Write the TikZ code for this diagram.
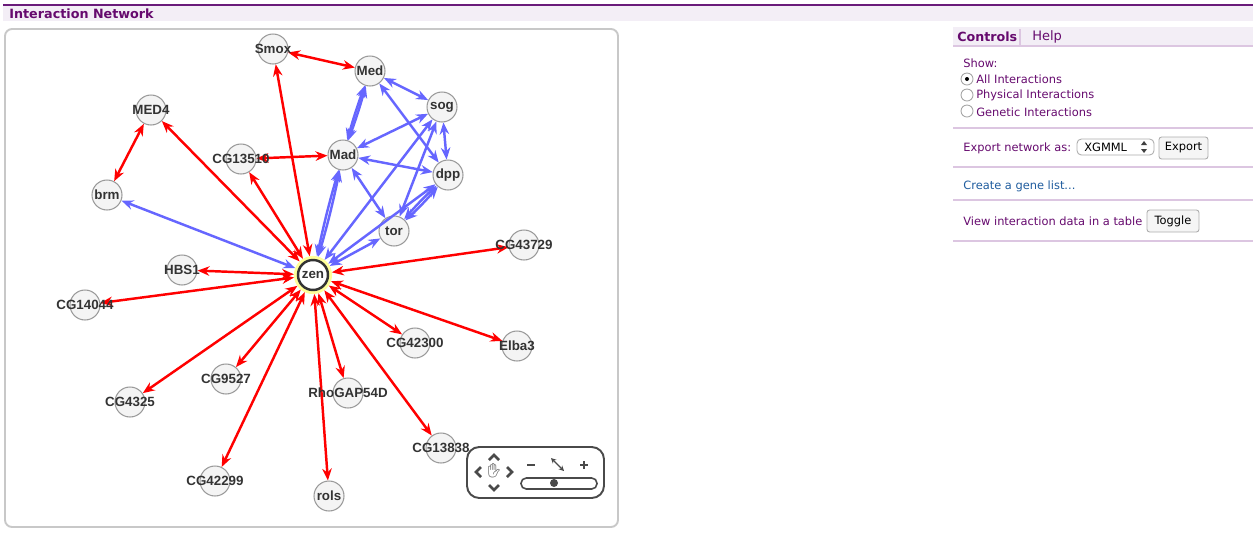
\documentclass[tikz,border=0pt]{standalone}
\usepackage{fontspec}
\setmainfont{Liberation Sans}
\newfontfamily\uifont{DejaVu Sans}
\newfontfamily\emojifont{Noto Emoji}
\usetikzlibrary{arrows.meta}

\definecolor{edgered}{HTML}{FF0000}
\definecolor{edgeblue}{HTML}{6666FF}
\definecolor{nodefill}{HTML}{F4F4F4}
\definecolor{nodeline}{HTML}{9A9A9A}
\definecolor{labelgray}{HTML}{333333}
\definecolor{zenline}{HTML}{333333}
\definecolor{halo}{HTML}{FFFF99}
\definecolor{framegray}{HTML}{C8C8C8}
\definecolor{uipurple}{HTML}{660A6E}
\definecolor{headline}{HTML}{6A1B7A}
\definecolor{bandfill}{HTML}{F3EEF6}
\definecolor{sepline}{HTML}{DCC6E1}
\definecolor{linkblue}{HTML}{1F5C9E}
\definecolor{widgetgray}{HTML}{4A4A4A}

\tikzset{
  gene/.style={circle, draw=nodeline, fill=nodefill, line width=0.6pt,
    minimum size=0.6cm, inner sep=0pt},
  genetext/.style={font=\fontsize{7.6}{9}\selectfont\bfseries, text=labelgray, inner sep=0pt},
  redlink/.style={edgered, line width=1.4pt, <->},
  bluelink/.style={edgeblue, line width=1.4pt, <->},
  ui/.style={font=\uifont\fontsize{6.5}{8}\selectfont, text=uipurple, inner sep=0pt, anchor=west},
  btn/.style={draw=gray!65, fill=gray!8, rounded corners=1.5pt, line width=0.5pt},
  chevron/.style={widgetgray, line width=1.6pt},
}

\begin{document}
\begin{tikzpicture}[x=0.02cm, y=-0.02cm, >={Stealth[length=6.8pt,width=5.4pt]}]
\useasboundingbox (0,0) rectangle (1259,535);

% header
\fill[bandfill] (3,6) rectangle (1253,21);
\draw[headline, line width=1.1pt] (3,5) -- (1253,5);
\node[font=\uifont\bfseries\fontsize{7.25}{10}\selectfont, text=uipurple, anchor=west, inner sep=0pt] (title) at (9,14) {Interaction Network};

% network panel
\draw[framegray, line width=1.1pt, rounded corners=4pt] (5,29) rectangle (618,527);

% genes
\node[gene, draw=zenline, line width=1.4pt, fill=white,
  preaction={draw=halo, line width=4.6pt}, outer sep=2.3pt] (zen) at (313,275) {};
\node[gene] (smox) at (273,49) {};
\node[gene] (med) at (370,71) {};
\node[gene] (sog) at (442,107) {};
\node[gene] (medf) at (151,110) {};
\node[gene] (cg13510) at (241,159) {};
\node[gene] (mad) at (343,155) {};
\node[gene] (dpp) at (448,175) {};
\node[gene] (brm) at (107,195) {};
\node[gene] (tor) at (394,231) {};
\node[gene] (cg43729) at (524,245) {};
\node[gene] (hbs) at (182,270) {};
\node[gene] (cg14044) at (85,305) {};
\node[gene] (cg42300) at (415,343) {};
\node[gene] (elba) at (517,346) {};
\node[gene] (cg9527) at (226,379) {};
\node[gene] (rho) at (348,393) {};
\node[gene] (cg4325) at (130,402) {};
\node[gene] (cg13838) at (441,448) {};
\node[gene] (cg42299) at (215,481) {};
\node[gene] (rols) at (329,496) {};

% red interactions
\foreach \g in {smox,medf,cg13510,hbs,cg14044,cg4325,cg9527,cg42299,rols,rho,cg13838,cg42300,elba,cg43729}
  \draw[redlink] (zen) -- (\g);
\draw[redlink] (smox) -- (med);
\draw[redlink] (medf) -- (brm);
\draw[redlink] (cg13510) -- (mad);

% blue interactions
\draw[bluelink] (zen) -- (brm);
\draw[bluelink] (zen) to[bend left=2] (mad);
\draw[bluelink] (zen) to[bend right=2] (mad);
\draw[bluelink] (zen) -- (sog);
\draw[bluelink] (zen) -- (dpp);
\draw[bluelink] (zen) -- (tor);
\draw[bluelink] (med) to[bend left=2] (mad);
\draw[bluelink] (med) to[bend right=2] (mad);
\draw[bluelink] (med) -- (sog);
\draw[bluelink] (med) -- (dpp);
\draw[bluelink] (sog) -- (mad);
\draw[bluelink] (sog) -- (dpp);
\draw[bluelink] (sog) -- (tor);
\draw[bluelink] (mad) -- (dpp);
\draw[bluelink] (mad) -- (tor);
\draw[bluelink] (dpp) to[bend left=3] (tor);
\draw[bluelink] (dpp) to[bend right=3] (tor);

% gene names
\foreach \g/\t in {zen/zen, smox/Smox, med/Med, sog/sog, medf/MED4, cg13510/CG13510,
  mad/Mad, dpp/dpp, brm/brm, tor/tor, cg43729/CG43729, hbs/HBS1, cg14044/CG14044,
  cg42300/CG42300, elba/Elba3, cg9527/CG9527, rho/RhoGAP54D, cg4325/CG4325,
  cg13838/CG13838, cg42299/CG42299, rols/rols}
  \node[genetext] (\g-t) at (\g) {\t};

% navigation widget
\draw[widgetgray, line width=1.1pt, rounded corners=7pt] (467,447) rectangle (604,498);
\draw[chevron] (489,460) -- (494,455) -- (499,460);
\draw[chevron] (489,485) -- (494,490) -- (499,485);
\draw[chevron] (481,467) -- (476,472) -- (481,477);
\draw[chevron] (507,467) -- (512,472) -- (507,477);
\node[font=\emojifont\fontsize{8}{8}\selectfont, text=widgetgray, inner sep=0pt] (hand) at (494,471) {✋};
\draw[widgetgray, line width=0.9pt] (527,465) -- (535,465);
\draw[widgetgray, line width=0.9pt] (580,465) -- (588,465) (584,461) -- (584,469);
\draw[widgetgray, line width=0.8pt, {Stealth[length=3pt,width=3pt]}-{Stealth[length=3pt,width=3pt]}] (551,458) -- (564,471);
\draw[widgetgray, line width=0.9pt, rounded corners=3pt] (521,478) rectangle (597,489);
\fill[widgetgray] (554,483) circle (4);

% controls panel
\fill[bandfill] (953,27) rectangle (1253,45);
\draw[sepline, line width=0.6pt] (953,46) -- (1253,46);
\draw[sepline, line width=0.6pt] (1020,29) -- (1020,45);
\node[ui, font=\uifont\bfseries\fontsize{7.2}{9}\selectfont] (controls) at (957,37) {Controls};
\node[ui, font=\uifont\fontsize{7.4}{9}\selectfont] (help) at (1032,37) {Help};

\node[ui] (show) at (963,63) {Show:};
\draw[gray!70, fill=white, line width=0.5pt] (967,79) circle (6);
\fill[black] (967,79) circle (2);
\draw[gray!70, fill=white, line width=0.5pt] (967,95) circle (6);
\draw[gray!70, fill=white, line width=0.5pt] (967,111) circle (6);
\node[ui] (allint) at (976,79) {All Interactions};
\node[ui] (physint) at (976,95) {Physical Interactions};
\node[ui] (genint) at (976,112) {Genetic Interactions};
\draw[sepline, line width=0.6pt] (953,128) -- (1253,128);

\node[ui] (export) at (963,148) {Export network as:};
\draw[gray!65, fill=white, line width=0.5pt, rounded corners=2.5pt] (1077,139) rectangle (1154,155);
\node[ui, text=black] (format) at (1084,147) {XGMML};
\fill[darkgray] (1141,145) -- (1147,145) -- (1144,141) -- cycle;
\fill[darkgray] (1141,149) -- (1147,149) -- (1144,153) -- cycle;
\draw[btn] (1159,137) rectangle (1208,159);
\node[ui, anchor=center, text=black] (exportbtn) at (1183.5,148) {Export};
\draw[sepline, line width=0.6pt] (953,167) -- (1253,167);

\node[ui, text=linkblue] (genelist) at (963,186) {Create a gene list...};
\draw[sepline, line width=0.6pt] (953,200) -- (1253,200);

\node[ui] (viewdata) at (963,221) {View interaction data in a table};
\draw[btn] (1147,210) rectangle (1199,232);
\node[ui, anchor=center, text=black] (togglebtn) at (1173,221) {Toggle};
\draw[sepline, line width=0.6pt] (953,241) -- (1253,241);
\end{tikzpicture}
\end{document}
